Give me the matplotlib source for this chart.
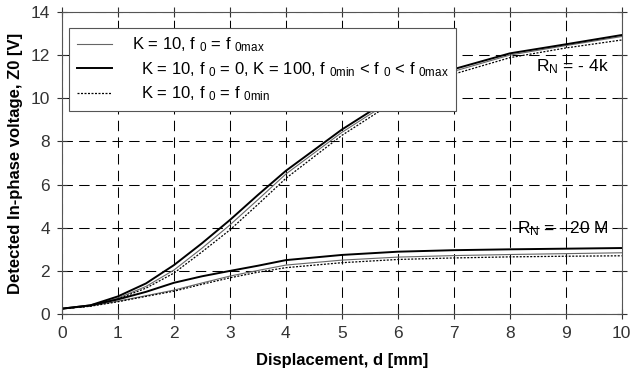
import matplotlib
matplotlib.use("Agg")
import matplotlib.pyplot as plt
import numpy as np

d = [0, 0.5, 1, 1.5, 2, 2.5, 3, 3.5, 4, 5, 6, 7, 8, 9, 10]

# R_N = -4k
hi_thick = [0.25, 0.4, 0.82, 1.42, 2.27, 3.28, 4.36, 5.52, 6.64, 8.55, 10.2, 11.35, 12.08, 12.5, 12.93]
hi_thin = [0.25, 0.38, 0.74, 1.28, 2.04, 3.05, 4.13, 5.3, 6.49, 8.42, 10.08, 11.25, 12.0, 12.44, 12.86]
hi_dot = [0.25, 0.37, 0.7, 1.2, 1.9, 2.88, 3.9, 5.08, 6.29, 8.28, 9.95, 11.12, 11.88, 12.33, 12.7]

# R_N = -20M
lo_thick = [0.25, 0.4, 0.68, 1.03, 1.45, 1.75, 2.0, 2.24, 2.5, 2.74, 2.89, 2.96, 3.0, 3.03, 3.06]
lo_thin = [0.25, 0.37, 0.6, 0.85, 1.11, 1.44, 1.76, 2.02, 2.27, 2.5, 2.64, 2.71, 2.76, 2.8, 2.84]
lo_dot = [0.25, 0.36, 0.57, 0.82, 1.06, 1.38, 1.68, 1.94, 2.15, 2.38, 2.53, 2.6, 2.65, 2.68, 2.7]

labels = [r"K = 10, f $_0$ = f $_{0\mathrm{max}}$",
          r"  K = 10, f $_0$ = 0, K = 100, f $_{0\mathrm{min}}$ < f $_0$ < f $_{0\mathrm{max}}$",
          r"  K = 10, f $_0$ = f $_{0\mathrm{min}}$"]

plt.rcParams['font.family'] = ['Liberation Sans', 'DejaVu Sans']
plt.rcParams['mathtext.fontset'] = 'custom'
plt.rcParams['mathtext.rm'] = 'Liberation Sans'
plt.rcParams['mathtext.it'] = 'Liberation Sans'

fig = plt.figure(figsize=(6.31, 3.73), dpi=100)
ax = fig.add_axes([0.0983, 0.158, 0.887, 0.810])

x = np.array(d)
dotted = (0, (1.6, 1.2))
l1, = ax.plot(x, hi_thin, color='#666666', lw=0.8)
l2, = ax.plot(x, hi_thick, color='black', lw=1.4)
l3, = ax.plot(x, hi_dot, color='black', lw=0.9, ls=dotted)
ax.plot(x, lo_thin, color='#666666', lw=0.8)
ax.plot(x, lo_thick, color='black', lw=1.4)
ax.plot(x, lo_dot, color='black', lw=0.9, ls=dotted)

ax.set_xlim(0, 10)
ax.set_ylim(0, 14)
ax.set_xticks(range(0, 11))
ax.set_yticks(range(0, 15, 2))
ax.grid(True, color='black', ls=(0, (10, 6)), lw=0.75)
ax.tick_params(labelsize=12.5, direction='inout', length=7, colors='#333333', pad=5)
ax.tick_params(top=True, right=True, which='both')
for s in ax.spines.values():
    s.set_color('#555555')

ax.set_xlabel("Displacement, d [mm]", fontsize=12, fontweight='bold', labelpad=9)
ax.set_ylabel("Detected In-phase voltage, Z0 [V]", fontsize=12, fontweight='bold', labelpad=6)

ax.text(9.12, 11.45, r"R$_\mathrm{N}$ = - 4k", fontsize=12.5, ha='center', va='center')
ax.text(8.95, 3.95, r"R$_\mathrm{N}$ = - 20 M", fontsize=12.5, ha='center', va='center')

leg = ax.legend([l1, l2, l3], labels, loc='upper left', bbox_to_anchor=(0.0125, 0.947),
                borderaxespad=0, fontsize=12, frameon=True, fancybox=False,
                edgecolor='#555555', handlelength=2.1, handletextpad=1.2,
                borderpad=0.45, labelspacing=0.35, framealpha=1)
leg.get_frame().set_linewidth(0.8)

fig.savefig("out.png", dpi=100)
